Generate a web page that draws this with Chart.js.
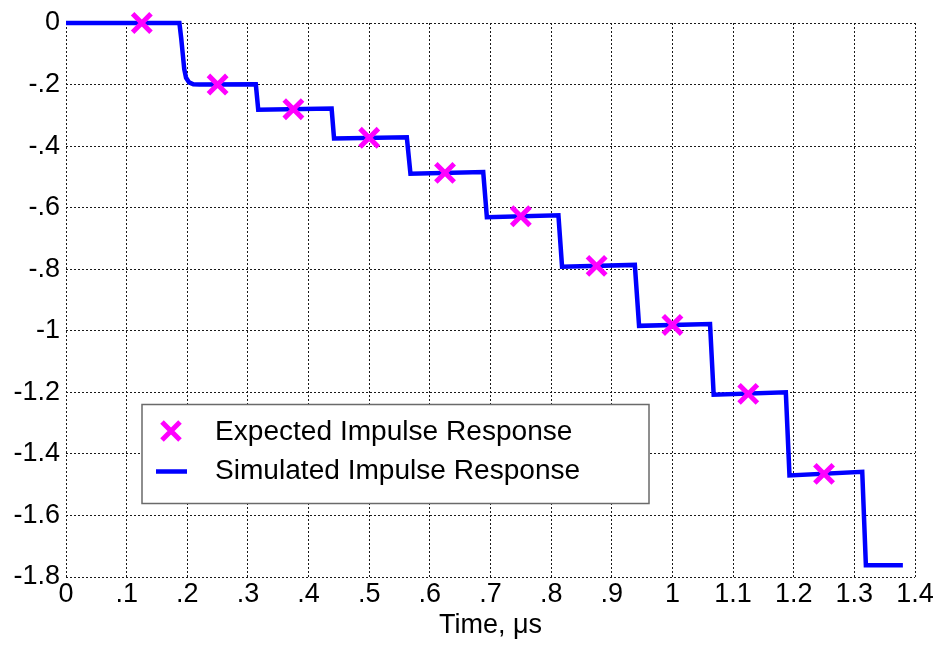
<!DOCTYPE html>
<html>
<head>
<meta charset="utf-8">
<script src="https://cdn.jsdelivr.net/npm/chart.js@4/dist/chart.umd.min.js"></script>
<style>
  html, body { margin: 0; padding: 0; background: #fff; }
  #wrap { width: 940px; height: 645px; }
</style>
</head>
<body>
<div id="wrap"><canvas id="chart" width="940" height="645"></canvas></div>
<script>
// expected impulse response (markers)
const expectedX = [0.125, 0.25, 0.375, 0.5, 0.625, 0.75, 0.875, 1.0, 1.125, 1.25];
const expectedY = [0, -0.2, -0.28, -0.373, -0.487, -0.628, -0.789, -0.981, -1.205, -1.465];

// simulated impulse response (staircase line)
const simX = [0, 0.187, 0.190, 0.193, 0.195, 0.198, 0.203, 0.210, 0.220,
  0.313, 0.317, 0.438, 0.442, 0.562, 0.568, 0.688, 0.694, 0.812, 0.818,
  0.938, 0.945, 1.062, 1.068, 1.187, 1.193, 1.313, 1.319, 1.38];
const simY = [0, 0, -0.05, -0.11, -0.15, -0.178, -0.193, -0.199, -0.2,
  -0.199, -0.282, -0.278, -0.375, -0.371, -0.49, -0.484, -0.631, -0.625, -0.792,
  -0.786, -0.984, -0.978, -1.208, -1.200, -1.470, -1.458, -1.762, -1.762];

const xTickLabels = ['0', '.1', '.2', '.3', '.4', '.5', '.6', '.7', '.8', '.9', '1', '1.1', '1.2', '1.3', '1.4'];
const yTickLabels = ['-1.8', '-1.6', '-1.4', '-1.2', '-1', '-.8', '-.6', '-.4', '-.2', '0'];

const legendLabels = ['Expected Impulse Response', 'Simulated Impulse Response'];

const FONT = 'Liberation Sans, Arial, Helvetica, sans-serif';
const MAGENTA = '#ff00ff';
const BLUE = '#0000ff';

// legend drawn inside the plot, like the matlab figure
const boxLegend = {
  id: 'boxLegend',
  afterDatasetsDraw(chart) {
    const ctx = chart.ctx;
    ctx.save();
    ctx.fillStyle = '#fff';
    ctx.fillRect(142, 404.5, 507, 99);
    ctx.strokeStyle = '#6a6a6a';
    ctx.lineWidth = 1.5;
    ctx.strokeRect(142, 404.5, 507, 99);

    // cross marker
    const cx = 171, cy = 431, d = 9;
    ctx.strokeStyle = MAGENTA;
    ctx.lineWidth = 5;
    ctx.beginPath();
    ctx.moveTo(cx - d, cy - d); ctx.lineTo(cx + d, cy + d);
    ctx.moveTo(cx - d, cy + d); ctx.lineTo(cx + d, cy - d);
    ctx.stroke();

    // line sample
    ctx.strokeStyle = BLUE;
    ctx.lineWidth = 4.5;
    ctx.beginPath();
    ctx.moveTo(156, 471.5); ctx.lineTo(187, 471.5);
    ctx.stroke();

    // text is a little wider in the original figure
    ctx.fillStyle = '#000';
    ctx.font = '27px ' + FONT;
    ctx.textBaseline = 'alphabetic';
    ctx.textAlign = 'left';
    ctx.translate(215, 0);
    ctx.scale(1.04, 1);
    ctx.fillText(legendLabels[0], 0, 440);
    ctx.fillText(legendLabels[1], 0, 479);
    ctx.restore();
  }
};

const gridOpts = { color: '#1a1a1a', lineWidth: 1, drawTicks: false };
const borderOpts = { display: false, dash: [2, 2] };

new Chart(document.getElementById('chart'), {
  type: 'scatter',
  data: {
    datasets: [
      {
        label: legendLabels[0],
        data: expectedX.map((x, i) => ({ x, y: expectedY[i] })),
        pointStyle: 'crossRot',
        pointRadius: 13,
        pointBorderWidth: 5,
        borderColor: MAGENTA,
        backgroundColor: MAGENTA,
        showLine: false,
        clip: false,
      },
      {
        label: legendLabels[1],
        data: simX.map((x, i) => ({ x, y: simY[i] })),
        showLine: true,
        borderColor: BLUE,
        borderWidth: 4.5,
        pointRadius: 0,
        tension: 0,
        fill: false,
        clip: false,
      },
    ],
  },
  options: {
    responsive: false,
    animation: false,
    layout: { padding: { left: 0, top: 23, right: 25, bottom: 0 } },
    plugins: { legend: { display: false }, tooltip: { enabled: false } },
    scales: {
      x: {
        type: 'linear',
        min: 0, max: 1.4,
        grid: gridOpts,
        border: borderOpts,
        ticks: {
          stepSize: 0.1,
          color: '#000',
          padding: 1,
          font: { family: FONT, size: 27 },
          maxRotation: 0,
          autoSkip: false,
          callback: (v, i) => xTickLabels[i],
        },
        title: {
          display: true,
          text: 'Time, μs',
          color: '#000',
          font: { family: FONT, size: 27 },
          padding: { top: 0, bottom: 3 },
        },
        afterFit: s => { s.height = 68; },
      },
      y: {
        min: -1.8, max: 0,
        grid: gridOpts,
        border: borderOpts,
        ticks: {
          stepSize: 0.2,
          color: '#000',
          padding: 6,
          font: { family: FONT, size: 27 },
          autoSkip: false,
          callback: (v, i) => yTickLabels[i],
        },
        afterFit: s => { s.width = 66; },
      },
    },
  },
  plugins: [boxLegend],
});
</script>
</body>
</html>
